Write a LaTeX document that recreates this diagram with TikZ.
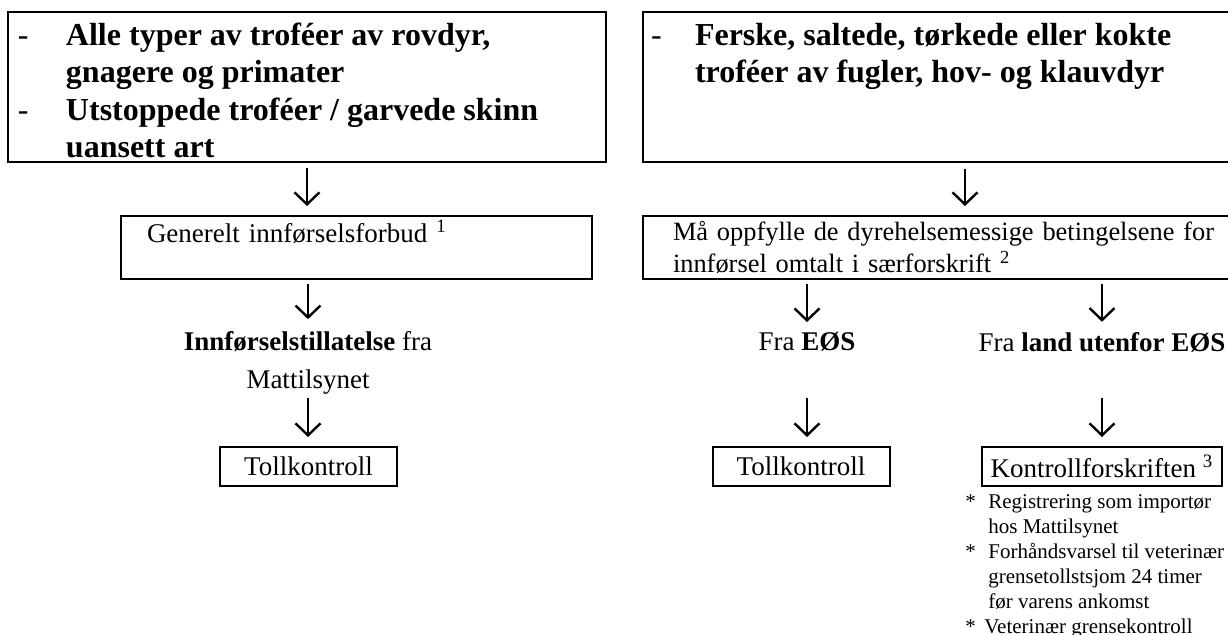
\documentclass[tikz,border=0pt]{standalone}
\usepackage{fontspec}
\setmainfont{Liberation Serif}
\usetikzlibrary{arrows.meta}
\tikzset{boks/.style = {draw, line width=1pt, inner ysep=0pt}}
\tikzset{pil/.style = {-{Straight Barb[length=6pt,width=12.5pt,line width=1.2pt]}, line width=1.2pt}}
\tikzset{tekst/.style = {inner sep=0pt, align=center, font=\fontsize{13.5}{19}\selectfont}}
\tikzset{overskrift/.style = {font=\fontsize{16}{18.75}\selectfont\bfseries, text height=16.5pt, text depth=58.5pt}}
\tikzset{vanlig/.style = {font=\fontsize{13.5}{16}\selectfont}}
\newcommand{\strek}{{\mdseries -}}

\begin{document}
\begin{tikzpicture}[x=0.5pt, y=-0.5pt]
      \path [use as bounding box] (0, 0) rectangle (1228, 634);
      \clip (0, 0) rectangle (1228, 634);
      % toppboksene
      \node [boks, overskrift, inner xsep=5pt] (venstre) at (307, 87)
        {\begin{tabular}[t]{@{}p{24pt}@{}p{265pt}@{}}
          \strek & Alle typer av troféer av rovdyr,\\
                 & gnagere og primater\\
          \strek & Utstoppede troféer / garvede skinn\\
                 & uansett art
         \end{tabular}};
      \node [boks, overskrift, inner xsep=4pt] (hoyre) at (965, 87)
        {\begin{tabular}[t]{@{}p{22pt}@{}p{292pt}@{}}
          \strek & Ferske, saltede, tørkede eller kokte\\
                 & troféer av fugler, hov- og klauvdyr\\
                 & \\
                 &
         \end{tabular}};
      % venstre gren
      \node [boks, vanlig, inner xsep=13pt, text width=209.5pt, align=left, minimum height=31.5pt] (forbud) at (356.5, 247.5)
        {Generelt innførselsforbud \textsuperscript{1}\\ \mbox{}};
      \node [tekst] (tillatelse) at (308, 363) {\textbf{Innførselstillatelse} fra\\Mattilsynet};
      \node [boks, vanlig, minimum width=88.5pt, minimum height=19.5pt] (tollV) at (308.5, 466.5) {Tollkontroll};
      % hoyre gren
      \node [boks, vanlig, font=\fontsize{13.2}{16}\selectfont, inner xsep=15pt, text width=292pt, align=left, minimum height=31.5pt] (vilkar) at (965, 247.5)
        {Må oppfylle de dyrehelsemessige betingelsene for\\innførsel omtalt i særforskrift \textsuperscript{2}};
      \node [tekst] (eos) at (807, 342) {Fra \textbf{EØS}};
      \node [tekst] (tredjeland) at (1102, 342) {Fra \textbf{land utenfor EØS}};
      \node [boks, vanlig, minimum width=88.5pt, minimum height=19.5pt] (tollH) at (801, 466.5) {Tollkontroll};
      \node [boks, vanlig, minimum width=120pt, minimum height=19.5pt] (kontroll) at (1102, 466.5) {Kontrollforskriften \textsuperscript{3}};
      \node [inner sep=0pt, anchor=north west, font=\fontsize{10.5}{12.5}\selectfont] (krav) at (965, 491)
        {\begin{tabular}{@{}p{11.5pt}@{}l@{}}
          {*} & Registrering som importør\\
              & hos Mattilsynet\\
          {*} & Forhåndsvarsel til veterinær\\
              & grensetollstsjom 24 timer\\
              & før varens ankomst\\
          {*} & \hspace{-2pt}Veterinær grensekontroll
         \end{tabular}};
      % piler
      \draw [pil, shorten <=2.5pt, shorten >=4.5pt] (venstre.south) -- (venstre.south |- forbud.north);
      \draw [pil, shorten <=2pt, shorten >=6pt] (tillatelse.north |- forbud.south) -- (tillatelse.north);
      \draw [pil, shorten <=1.5pt, shorten >=4.5pt] (tillatelse.south) -- (tillatelse.south |- tollV.north);
      \draw [pil, shorten <=3pt, shorten >=4.5pt] (hoyre.south) -- (vilkar.north);
      \draw [pil, shorten <=2pt, shorten >=5pt] (eos.north |- vilkar.south) -- (eos.north);
      \draw [pil, shorten <=2pt, shorten >=5pt] (tredjeland.north |- vilkar.south) -- (tredjeland.north);
      \draw [pil, shorten <=23pt, shorten >=4.5pt] (eos.south) -- (eos.south |- tollH.north);
      \draw [pil, shorten <=23pt, shorten >=4.5pt] (tredjeland.south) -- (tredjeland.south |- kontroll.north);
    \end{tikzpicture}
\end{document}
